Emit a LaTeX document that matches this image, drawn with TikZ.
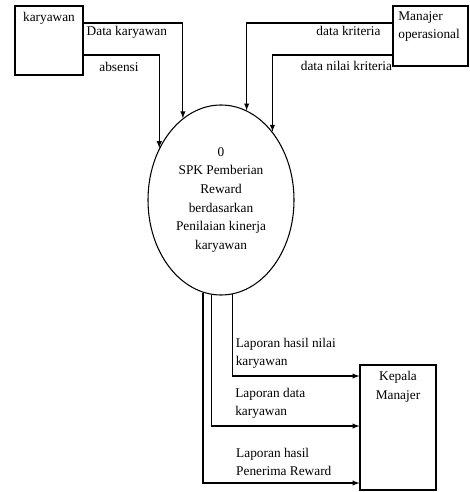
\documentclass[tikz,border=0pt]{standalone}
\usepackage{fontspec}
\setmainfont{Liberation Serif}
\usetikzlibrary{shapes.geometric}

\begin{document}
\begin{tikzpicture}[x=0.75pt,y=-0.75pt,thick,>=latex,
  font=\fontsize{10}{14}\selectfont,
  entity/.style={draw,rectangle,inner sep=0pt},
  process/.style={draw,ellipse,align=center,inner sep=0pt},
  flow/.style={font=\fontsize{10}{13.5}\selectfont,align=left,inner sep=2pt}]
\useasboundingbox (0,0) rectangle (469,492);
\node[entity,minimum width=51pt,minimum height=51.75pt,label={[anchor=north,inner sep=5pt]north:karyawan}] (kary) at (49,40.5) {};
\node[entity,minimum width=56.25pt,minimum height=45pt,label={[anchor=north west,align=left,inner sep=4pt]north west:Manajer\\operasional}] (mo) at (430.5,36) {};
\node[entity,minimum width=57pt,minimum height=93.75pt,label={[anchor=north,align=center,inner sep=5pt]north:Kepala\\Manajer}] (km) at (398,427.5) {};
\node[process,minimum width=109.5pt,minimum height=142.5pt] (proc) at (221,200) {0\\SPK Pemberian\\Reward\\berdasarkan\\Penilaian kinerja\\karyawan};
\draw[->] (kary.east |- 0,23) -| node[flow,pos=0,anchor=north west] {Data karyawan} (proc.115);
\draw[->] (kary.east |- 0,55) -| node[flow,pos=0.234,anchor=north,yshift=-3pt] {absensi} (proc.140);
\draw[->] (mo.west |- 0,23) -| node[flow,pos=0.03,anchor=north east] {data kriteria} (proc.74);
\draw[->] (mo.west |- 0,55) -| node[flow,pos=0,anchor=north east,inner sep=0pt,yshift=-4pt] {data nilai kriteria} (proc.53);
\draw[->] (proc.277) |- node[flow,pos=0.5,anchor=south west,yshift=3pt] {Laporan hasil nilai\\karyawan} (km.west |- 0,376);
\draw[->] (proc.264) |- node[flow,pos=0.571,anchor=south west,yshift=3pt] {Laporan data\\karyawan} (km.west |- 0,426);
\draw[->] (proc.259) |- node[flow,pos=0.596,anchor=south west,yshift=3pt] {Laporan hasil\\Penerima Reward} (km.west |- 0,483);
\end{tikzpicture}
\end{document}
